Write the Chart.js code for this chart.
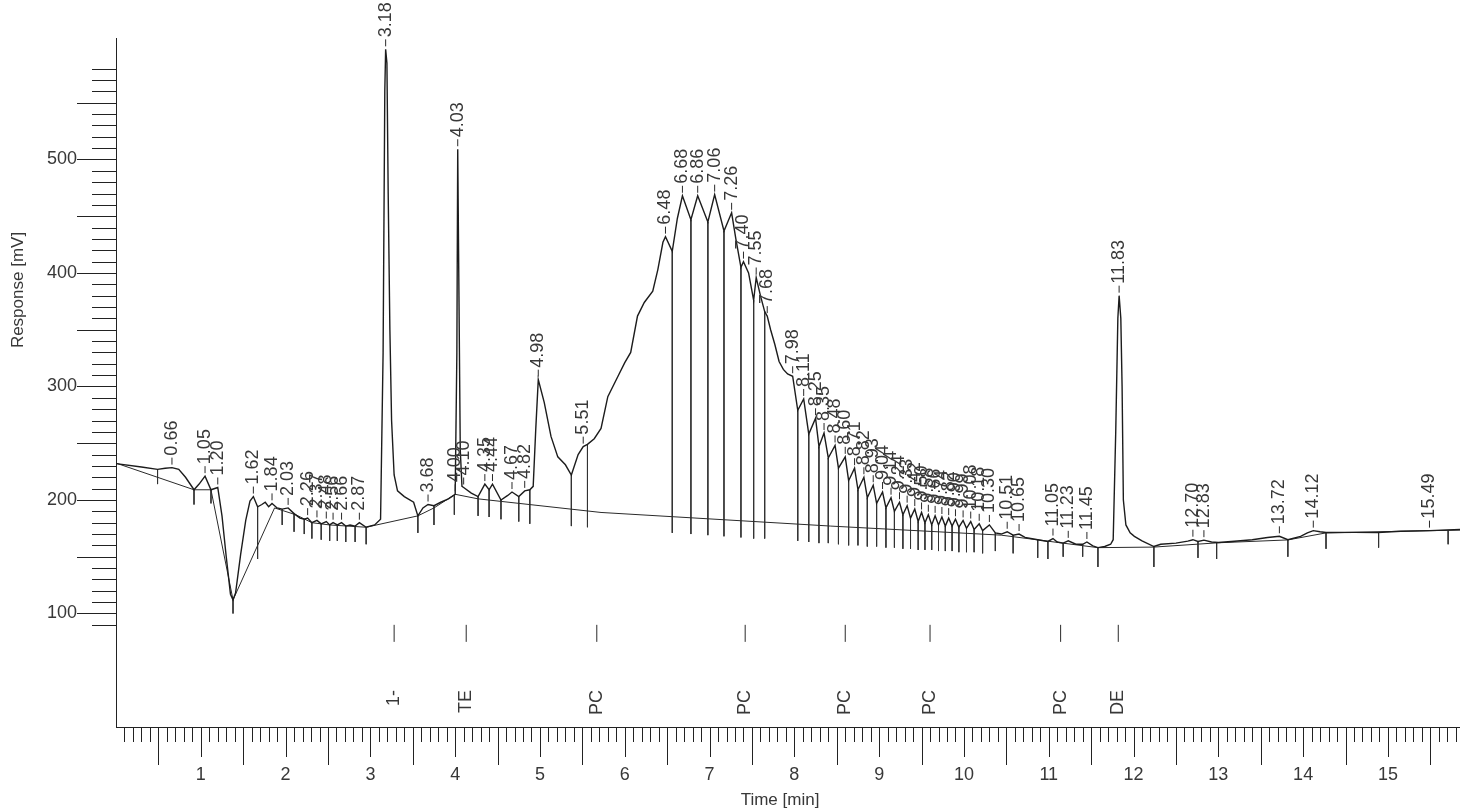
<!DOCTYPE html>
<html>
<head>
<meta charset="utf-8">
<title>Chromatogram</title>
<script src="https://cdn.jsdelivr.net/npm/chart.js@4.4.1/dist/chart.umd.min.js"></script>
<style>
  html, body { margin: 0; padding: 0; background: #ffffff; }
  canvas { display: block; }
</style>
</head>
<body>
<canvas id="chrom" width="1460" height="808"></canvas>
<script>
// Detector signal: retention time (min) and response (mV)
const traceTime = [
  0.00, 0.30, 0.49, 0.58, 0.66, 0.74, 0.82, 0.92, 0.98, 1.05, 1.12, 1.20, 1.25, 1.30, 1.35, 1.38, 1.41, 1.47, 1.53, 1.58,
  1.62, 1.67, 1.72, 1.76, 1.80, 1.84, 1.90, 1.96, 2.03, 2.10, 2.17, 2.22, 2.26, 2.31, 2.37, 2.42, 2.48, 2.52, 2.56, 2.61,
  2.66, 2.71, 2.76, 2.82, 2.87, 2.95, 3.05, 3.12, 3.15, 3.17, 3.18, 3.195, 3.21, 3.23, 3.25, 3.28, 3.32, 3.40, 3.51, 3.56,
  3.62, 3.68, 3.75, 3.83, 3.92, 4.00, 4.02, 4.03, 4.04, 4.06, 4.08, 4.10, 4.19, 4.27, 4.35, 4.40, 4.44, 4.54, 4.62, 4.67,
  4.75, 4.82, 4.88, 4.92, 4.95, 4.98, 5.05, 5.13, 5.21, 5.30, 5.37, 5.45, 5.51, 5.56, 5.64, 5.72, 5.80, 5.92, 6.00, 6.07,
  6.15, 6.23, 6.33, 6.39, 6.45, 6.48, 6.56, 6.62, 6.68, 6.78, 6.86, 6.98, 7.06, 7.17, 7.26, 7.31, 7.37, 7.40, 7.46, 7.52,
  7.55, 7.60, 7.65, 7.68, 7.72, 7.77, 7.82, 7.87, 7.92, 7.98, 8.04, 8.11, 8.17, 8.25, 8.29, 8.35, 8.40, 8.48, 8.52, 8.60,
  8.64, 8.71, 8.75, 8.82, 8.86, 8.93, 8.97, 9.04, 9.08, 9.14, 9.18, 9.24, 9.28, 9.33, 9.37, 9.42, 9.46, 9.50, 9.54, 9.58,
  9.62, 9.66, 9.70, 9.74, 9.78, 9.82, 9.86, 9.90, 9.94, 9.99, 10.03, 10.08, 10.12, 10.18, 10.22, 10.30, 10.37, 10.44, 10.51, 10.58,
  10.65, 10.72, 10.87, 10.99, 11.05, 11.10, 11.17, 11.23, 11.32, 11.40, 11.45, 11.52, 11.58, 11.66, 11.73, 11.76, 11.79, 11.815, 11.83, 11.85,
  11.865, 11.88, 11.91, 11.96, 12.01, 12.10, 12.24, 12.32, 12.50, 12.64, 12.70, 12.76, 12.83, 12.92, 13.00, 13.19, 13.40, 13.58, 13.72, 13.82,
  13.97, 14.05, 14.12, 14.20, 14.27, 14.60, 14.88, 15.15, 15.49, 15.85
];
const traceResponse = [
  232, 229, 227, 228, 228.5, 227, 220, 209, 214, 221, 209, 211, 186, 150, 117, 112, 118, 152, 182, 199,
  203, 194, 196, 198, 194, 197, 193, 192, 193, 188, 184, 183, 184, 180, 182, 179, 181, 178, 180, 178,
  180, 177, 178, 177, 180, 176, 178, 183, 330, 560, 597, 585, 470, 350, 270, 222, 208, 203, 198, 186,
  193, 196, 195, 198, 201, 205, 330, 509, 420, 244, 212, 211, 206, 203, 214, 209, 214, 200, 204, 207,
  203, 208, 209, 212, 262, 306, 286, 256, 238, 231, 222, 240, 247, 249, 254, 263, 291, 309, 321, 330,
  362, 374, 384, 403, 427, 432, 419, 448, 468, 447, 468, 445, 469, 437, 453, 430, 405, 410, 400, 376,
  396, 380, 366, 362, 350, 337, 322, 315, 311, 309, 279, 289, 258, 272, 247, 259, 237, 248, 228, 238,
  217, 228, 209, 220, 202, 213, 197, 207, 193, 202, 190, 198, 187, 195, 184, 192, 181, 189, 180, 187,
  178, 186, 178, 185, 177, 184, 177, 183, 176, 182, 175, 181, 174, 179, 173, 178, 171, 170, 172, 169,
  170, 167, 165, 163.5, 166, 163, 162, 164, 161, 161, 163, 159.5, 158, 159, 161, 165, 260, 360, 380, 360,
  300, 200, 178, 171, 168, 164, 159, 161, 162, 163.7, 165, 163.5, 164.6, 163, 162.6, 163.7, 165, 167, 168, 165,
  168, 171, 173, 172, 171.4, 171.5, 171.4, 172.5, 173, 174
];

// Integration baseline drawn under the peaks
const baseTime = [0.00, 0.92, 1.12, 1.38, 1.87, 2.12, 2.31, 2.52, 2.95, 3.56, 3.75, 4.00, 4.27, 5.72, 8.43, 10.44, 11.58, 12.24, 13.00, 13.82, 14.27, 15.85];
const baseResponse = [232.5, 209, 209, 112, 193, 187, 180, 178, 176, 186, 193, 205, 201, 189, 177, 169, 158, 158.5, 162.3, 164.8, 171, 173.5];

// Peak start/end markers: time, upper and lower end of each vertical mark (mV)
const dropTime = [
  0.49, 0.92, 1.12, 1.38, 1.67, 1.96, 2.10, 2.22, 2.31, 2.42, 2.52, 2.61, 2.71, 2.82, 2.95, 3.56, 3.75, 3.99, 4.27, 4.40,
  4.54, 4.75, 4.88, 5.37, 5.56, 6.56, 6.78, 6.98, 7.17, 7.37, 7.52, 7.65, 8.04, 8.17, 8.29, 8.40, 8.52, 8.64, 8.75, 8.86,
  8.97, 9.08, 9.18, 9.28, 9.37, 9.46, 9.54, 9.62, 9.70, 9.78, 9.86, 9.94, 10.03, 10.12, 10.22, 10.37, 10.58, 10.87, 10.99, 11.17,
  11.40, 11.58, 12.24, 12.76, 12.98, 13.82, 14.27, 14.89, 15.71
];
const dropTop = [
  227, 209, 209, 112, 194, 192, 188, 183, 180, 179, 178, 178, 177, 177, 176, 186, 195, 204, 203, 209,
  200, 203, 209, 222, 249, 419, 447, 445, 437, 405, 376, 366, 279, 258, 247, 237, 228, 217, 209, 202,
  197, 193, 190, 187, 184, 181, 180, 178, 178, 177, 177, 176, 175, 174, 173, 171, 169, 165, 163.5, 162,
  161, 158, 159, 163.5, 162.6, 165, 171, 171.4, 173
];
const dropBottom = [
  214, 196, 197, 100, 148, 178, 172, 170, 166, 165, 164, 164, 163, 163, 161, 171, 178, 187, 186, 185,
  183, 181, 179, 177, 176, 171, 170, 169, 168, 167, 166, 166, 164, 163, 162, 162, 161, 160, 160, 159,
  159, 158, 158, 157, 157, 156, 156, 156, 155, 155, 155, 154, 154, 154, 153, 155, 153, 149, 148, 150,
  150, 141, 141, 149, 148, 150, 157, 158, 161
];

// Labelled peak apexes: retention time (min) and apex response (mV)
const peakTime = [
  0.66, 1.05, 1.20, 1.62, 1.84, 2.03, 2.26, 2.37, 2.48, 2.56, 2.66, 2.87, 3.18, 3.68, 4.00, 4.03, 4.10, 4.35, 4.44, 4.67,
  4.82, 4.98, 5.51, 6.48, 6.68, 6.86, 7.06, 7.26, 7.40, 7.55, 7.68, 7.98, 8.11, 8.25, 8.35, 8.48, 8.60, 8.71, 8.82, 8.93,
  9.04, 9.14, 9.24, 9.33, 9.42, 9.50, 9.58, 9.66, 9.74, 9.82, 9.90, 9.99, 10.08, 10.18, 10.30, 10.51, 10.65, 11.05, 11.23, 11.45,
  11.83, 12.70, 12.83, 13.72, 14.12, 15.49
];
const peakResponse = [
  228.5, 221, 211, 203, 197, 193, 184, 182, 181, 180, 180, 180, 597, 196, 205, 509, 211, 214, 214, 207,
  208, 306, 247, 432, 468, 468, 469, 453, 410, 396, 362, 309, 289, 272, 259, 248, 238, 228, 220, 213,
  207, 202, 198, 195, 192, 189, 187, 186, 185, 184, 183, 182, 181, 179, 178, 172, 170, 166, 164, 163,
  380, 165, 164.6, 168, 173, 173
];

// Event marks printed under the trace
const eventTime = [3.28, 4.13, 5.67, 7.42, 8.60, 9.60, 11.14, 11.82];
const eventText = ['1-', 'TE', 'PC', 'PC', 'PC', 'PC', 'PC', 'DE'];

// Axis tick labels
const xTickLabels = [1, 2, 3, 4, 5, 6, 7, 8, 9, 10, 11, 12, 13, 14, 15];
const yTickLabels = [100, 200, 300, 400, 500];

const FONT = '"Liberation Sans", Arial, Helvetica, sans-serif';
const INK = '#383838';
const LINE = '#222222';

const toPoints = (ts, vs) => ts.map((t, i) => ({ x: t, y: vs[i] }));
const toSegments = (ts, tops, bottoms) =>
  ts.flatMap((t, i) => [{ x: t, y: tops[i] }, { x: t, y: bottoms[i] }, { x: t, y: null }]);

// Draws the ruler-style axes, peak labels and event marks
const chromDecor = {
  id: 'chromDecor',
  beforeDatasetsDraw(chart) {
    const { ctx, chartArea: a, scales: { x, y } } = chart;
    ctx.save();
    ctx.strokeStyle = LINE;
    ctx.lineWidth = 1;
    ctx.beginPath();
    // axis lines
    ctx.moveTo(a.left + 0.5, a.top);
    ctx.lineTo(a.left + 0.5, a.bottom + 1);
    ctx.moveTo(a.left, a.bottom + 0.5);
    ctx.lineTo(a.right, a.bottom + 0.5);
    // response ruler, every 10 mV
    for (let v = 90; v <= 580; v += 10) {
      const py = Math.round(y.getPixelForValue(v)) + 0.5;
      const len = v % 50 === 0 ? 39 : 24;
      ctx.moveTo(a.left - len, py);
      ctx.lineTo(a.left, py);
    }
    // time ruler, every 0.1 min
    for (let i = 1; i / 10 <= x.max; i++) {
      const px = Math.round(x.getPixelForValue(i / 10)) + 0.5;
      const len = i % 10 === 0 ? 30 : (i % 5 === 0 ? 38 : 15);
      ctx.moveTo(px, a.bottom);
      ctx.lineTo(px, a.bottom + len);
    }
    ctx.stroke();

    ctx.fillStyle = INK;
    ctx.font = '18px ' + FONT;
    ctx.textAlign = 'right';
    ctx.textBaseline = 'middle';
    yTickLabels.forEach(v => ctx.fillText(String(v), a.left - 39, y.getPixelForValue(v)));
    ctx.textAlign = 'center';
    xTickLabels.forEach(t => ctx.fillText(String(t), x.getPixelForValue(t), a.bottom + 48));

    ctx.font = '17px ' + FONT;
    ctx.fillText('Time [min]', (a.left + a.right) / 2 - 8, a.bottom + 73);
    ctx.translate(18, 290);
    ctx.rotate(-Math.PI / 2);
    ctx.fillText('Response [mV]', 0, 0);
    ctx.restore();
  },
  afterDatasetsDraw(chart) {
    const { ctx, chartArea: a, scales: { x, y } } = chart;
    ctx.save();
    ctx.strokeStyle = '#2a2a2a';
    ctx.lineWidth = 1;
    ctx.fillStyle = INK;
    ctx.font = '18px ' + FONT;
    ctx.textBaseline = 'middle';

    // peak apex labels, reading upwards
    peakTime.forEach((t, i) => {
      const px = x.getPixelForValue(t);
      const py = y.getPixelForValue(peakResponse[i]);
      ctx.beginPath();
      ctx.moveTo(px, py - 3);
      ctx.lineTo(px, py - 10);
      ctx.stroke();
      ctx.save();
      ctx.translate(px, py - 12);
      ctx.rotate(-Math.PI / 2);
      ctx.textAlign = 'left';
      ctx.fillText(t.toFixed(2), 0, 0);
      ctx.restore();
    });

    // event marks and their names
    eventTime.forEach((t, i) => {
      const px = x.getPixelForValue(t);
      ctx.beginPath();
      ctx.moveTo(px, y.getPixelForValue(90));
      ctx.lineTo(px, y.getPixelForValue(75));
      ctx.stroke();
      ctx.save();
      ctx.translate(px, y.getPixelForValue(32.5));
      ctx.rotate(-Math.PI / 2);
      ctx.textAlign = 'right';
      ctx.fillText(eventText[i], 0, 0);
      ctx.restore();
    });
    ctx.restore();
  }
};

new Chart(document.getElementById('chrom'), {
  type: 'line',
  data: {
    datasets: [
      {
        label: 'Signal',
        data: toPoints(traceTime, traceResponse),
        borderColor: '#1c1c1c',
        borderWidth: 1.4
      },
      {
        label: 'Baseline',
        data: toPoints(baseTime, baseResponse),
        borderColor: '#2a2a2a',
        borderWidth: 1
      },
      {
        label: 'Peak limits',
        data: toSegments(dropTime, dropTop, dropBottom),
        borderColor: '#333333',
        borderWidth: 1,
        spanGaps: false
      }
    ]
  },
  options: {
    responsive: false,
    animation: false,
    devicePixelRatio: 1,
    events: [],
    elements: {
      point: { radius: 0 },
      line: { tension: 0, fill: false }
    },
    layout: { padding: { left: 116, right: 0, top: 38, bottom: 81 } },
    scales: {
      x: { type: 'linear', min: 0, max: 15.85, display: false },
      y: { type: 'linear', min: 0, max: 607, display: false }
    },
    plugins: {
      legend: { display: false },
      tooltip: { enabled: false }
    }
  },
  plugins: [chromDecor]
});
</script>
</body>
</html>
